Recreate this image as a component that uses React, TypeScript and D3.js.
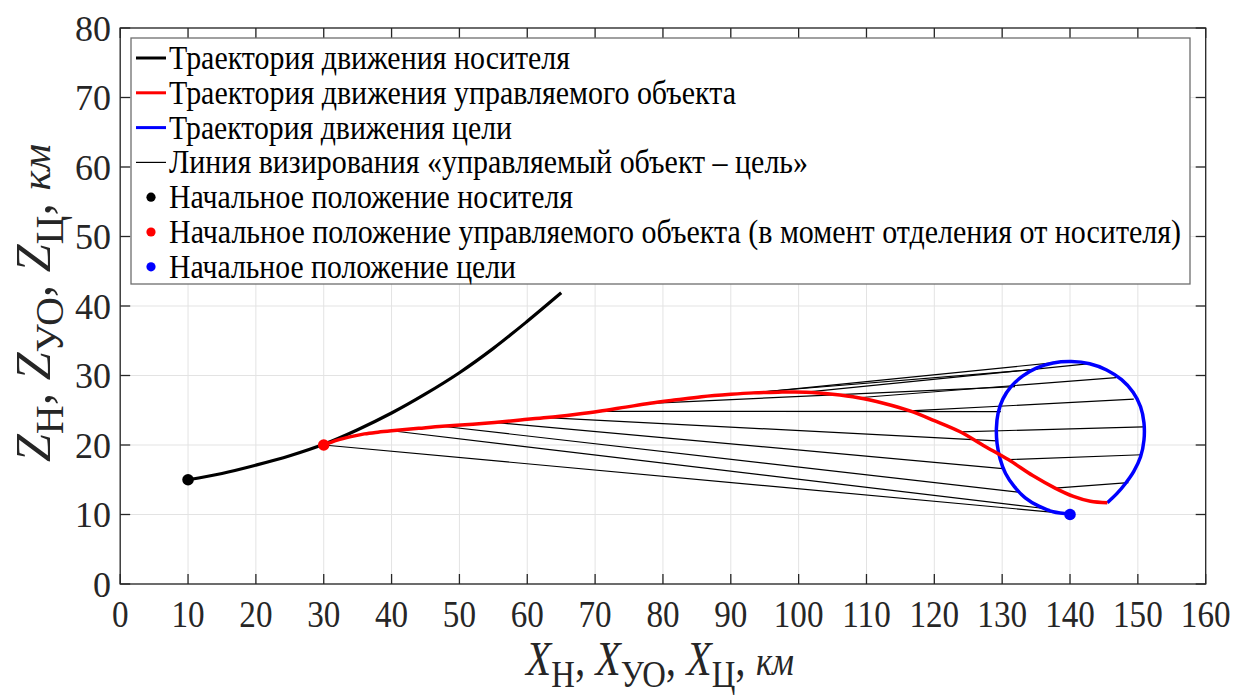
import React from "react";
import * as d3 from "d3";

const W = 1237;
const H = 697;

// ---- data (km) ----
const xTicks = [0, 10, 20, 30, 40, 50, 60, 70, 80, 90, 100, 110, 120, 130, 140, 150, 160];
const yTicks = [0, 10, 20, 30, 40, 50, 60, 70, 80];

const carrierX = [10, 15, 20, 25, 30, 35, 40, 45, 50, 55, 60, 65];
const carrierZ = [15, 15.9, 17.1, 18.45, 20.1, 22.2, 24.6, 27.35, 30.4, 33.9, 37.8, 41.9];

const objectX = [30, 32, 34, 36, 38, 40, 44, 47.5, 52, 55.2, 59, 62.9, 67, 70.6, 74.5, 78.1, 82, 85.7, 90, 93.4, 97, 101.1, 105, 108.8, 112.5, 116.4, 120, 123.8, 127.3, 130.9, 134.5, 137.8, 140.5, 143, 145.5];
const objectZ = [20, 20.7, 21.2, 21.6, 21.85, 22.05, 22.4, 22.7, 23.0, 23.25, 23.6, 23.95, 24.4, 24.85, 25.45, 26.0, 26.5, 26.95, 27.3, 27.5, 27.6, 27.6, 27.3, 26.8, 26.0, 24.9, 23.5, 21.9, 19.9, 17.9, 15.6, 13.8, 12.6, 11.9, 11.7];

const targetX = [140, 137.5, 135.4, 133.4, 131.8, 130.5, 129.7, 129.25, 129.15, 129.4, 130.1, 131.3, 133.0, 135.1, 137.5, 140.2, 142.9, 145.4, 147.6, 149.3, 150.4, 150.9, 150.9, 150.4, 149.4, 148.2, 146.9, 145.5];
const targetZ = [10.1, 10.4, 11.2, 12.4, 14.0, 15.9, 18.0, 20.2, 22.4, 24.6, 26.6, 28.4, 29.9, 31.1, 31.8, 32.0, 31.7, 30.8, 29.4, 27.6, 25.5, 23.2, 20.7, 18.3, 16.2, 14.5, 13.0, 11.7];

// line of sight: object point -> target point at the same instant
const losObjX = [30, 40, 47.5, 55.2, 62.9, 70.6, 78.1, 85.7, 93.4, 101.1, 108.8, 116.4, 123.8, 130.9, 137.8];
const losObjZ = [20, 22.05, 22.7, 23.25, 23.95, 24.85, 26.0, 26.95, 27.5, 27.6, 26.8, 24.9, 21.9, 17.9, 13.8];
const losTgtX = [140, 135.9, 132.5, 130.1, 129.2, 129.8, 131.9, 135.2, 139.2, 142.9, 146.8, 149.4, 150.8, 150.6, 148.6];
const losTgtZ = [10.1, 10.9, 13.2, 16.6, 20.6, 24.8, 28.4, 30.9, 32.0, 31.7, 29.7, 26.6, 22.6, 18.6, 14.6];

const startCarrier = [10, 15];
const startObject = [30, 20];
const startTarget = [140, 10];

const legendLabels = [
  "Траектория движения носителя",
  "Траектория движения управляемого объекта",
  "Траектория движения цели",
  "Линия визирования «управляемый объект – цель»",
  "Начальное положение носителя",
  "Начальное положение управляемого объекта (в момент отделения от носителя)",
  "Начальное положение цели",
];
const legendKinds = ["line", "line", "line", "line", "dot", "dot", "dot"];
const legendColors = ["#000000", "#ff0000", "#0000ff", "#000000", "#000000", "#ff0000", "#0000ff"];
// layout: stroke widths and rendered text widths (px)
const legendStroke = [3, 3, 3, 1.2, 0, 0, 0];
const legendTextW = [401, 567, 343, 639, 404, 1012, 347];

const SERIF = "'Liberation Serif'";
const ff = { fontFamily: SERIF };

export default function App() {
  const left = 120.2, right = 1205.7, top = 28, bottom = 584;
  const x = d3.scaleLinear().domain([0, 160]).range([left, right]);
  const y = d3.scaleLinear().domain([0, 80]).range([bottom, top]);

  const line = d3
    .line<[number, number]>()
    .x((d) => x(d[0]))
    .y((d) => y(d[1]))
    .curve(d3.curveCatmullRom.alpha(0.5));

  const zip = (a: number[], b: number[]) => a.map((v, i) => [v, b[i]] as [number, number]);

  const carrierPath = line(zip(carrierX, carrierZ)) || "";
  const objectPath = line(zip(objectX, objectZ)) || "";
  const targetPath = line(zip(targetX, targetZ)) || "";

  const tickLen = 10;
  const legendX = 131, legendY = 38, legendW = 1059, legendH = 246;
  const rowH = 34.8;

  const axisLabel = (letter: string, sub: number, dy: number) => (
    <>
      <tspan style={ff} fontStyle="italic">{letter}</tspan>
      <tspan style={ff} fontSize={sub} dy={dy}>Н</tspan>
      <tspan style={ff} dy={-dy}>, </tspan>
      <tspan style={ff} fontStyle="italic">{letter}</tspan>
      <tspan style={ff} fontSize={sub} dy={dy}>УО</tspan>
      <tspan style={ff} dy={-dy}>, </tspan>
      <tspan style={ff} fontStyle="italic">{letter}</tspan>
      <tspan style={ff} fontSize={sub} dy={dy}>Ц</tspan>
      <tspan style={ff} dy={-dy}>, </tspan>
      <tspan style={ff} fontStyle="italic" fontSize={sub + 2}>км</tspan>
    </>
  );

  return (
    <svg
      width={W}
      height={H}
      style={{ position: "absolute", left: 0, top: 0, background: "#fff", fontFamily: SERIF }}
    >
      <rect x={0} y={0} width={W} height={H} fill="#fff" />
      {/* grid */}
      <g stroke="#e3e3e3" strokeWidth={1}>
        {xTicks.map((t) => (
          <line key={"gx" + t} x1={x(t)} x2={x(t)} y1={top} y2={bottom} />
        ))}
        {yTicks.map((t) => (
          <line key={"gy" + t} x1={left} x2={right} y1={y(t)} y2={y(t)} />
        ))}
      </g>

      {/* sight lines */}
      <g stroke="#000" strokeWidth={1.2}>
        {losObjX.map((v, i) => (
          <line key={"los" + i} x1={x(v)} y1={y(losObjZ[i])} x2={x(losTgtX[i])} y2={y(losTgtZ[i])} />
        ))}
      </g>

      <path d={carrierPath} fill="none" stroke="#000" strokeWidth={3.2} />
      <path d={targetPath} fill="none" stroke="#0000ff" strokeWidth={3.5} />
      <path d={objectPath} fill="none" stroke="#ff0000" strokeWidth={3.5} />

      <circle cx={x(startCarrier[0])} cy={y(startCarrier[1])} r={5.8} fill="#000" />
      <circle cx={x(startObject[0])} cy={y(startObject[1])} r={5.8} fill="#ff0000" />
      <circle cx={x(startTarget[0])} cy={y(startTarget[1])} r={5.8} fill="#0000ff" />

      {/* axes box and ticks */}
      <rect x={left} y={top} width={right - left} height={bottom - top} fill="none" stroke="#262626" strokeWidth={1.3} />
      <g stroke="#262626" strokeWidth={1.3}>
        {xTicks.map((t) => (
          <g key={"tx" + t}>
            <line x1={x(t)} x2={x(t)} y1={bottom} y2={bottom - tickLen} />
            <line x1={x(t)} x2={x(t)} y1={top} y2={top + tickLen} />
          </g>
        ))}
        {yTicks.map((t) => (
          <g key={"ty" + t}>
            <line x1={left} x2={left + tickLen} y1={y(t)} y2={y(t)} />
            <line x1={right} x2={right - tickLen} y1={y(t)} y2={y(t)} />
          </g>
        ))}
      </g>

      {/* tick labels */}
      <g fill="#262626">
        {xTicks.map((t) => (
          <text key={"lx" + t} style={ff} transform={`translate(${x(t)},627) scale(0.85,1)`} textAnchor="middle" fontSize={39}>
            {t}
          </text>
        ))}
        {yTicks.map((t) => (
          <text key={"ly" + t} style={ff} x={111} y={y(t) + 12.5} textAnchor="end" fontSize={36}>
            {t}
          </text>
        ))}
      </g>

      {/* axis labels */}
      <text style={ff} transform="translate(660,675) scale(0.86,1)" textAnchor="middle" fill="#262626" fontSize={48}>
        {axisLabel("X", 38, 12)}
      </text>
      <text style={ff} transform="translate(50,303) rotate(-90)" textAnchor="middle" fill="#262626" fontSize={50}>
        {axisLabel("Z", 40, 13)}
      </text>

      {/* legend */}
      <rect x={legendX} y={legendY} width={legendW} height={legendH} fill="#fff" stroke="#6e6e6e" strokeWidth={1.3} />
      {legendLabels.map((label, i) => {
        const cy = legendY + 20 + i * rowH;
        return (
          <g key={"lg" + i}>
            {legendKinds[i] === "line" ? (
              <line x1={136} x2={166} y1={cy} y2={cy} stroke={legendColors[i]} strokeWidth={legendStroke[i]} />
            ) : (
              <circle cx={151} cy={cy} r={4.6} fill={legendColors[i]} />
            )}
            <text
              style={ff}
              x={169}
              y={cy + 11}
              fontSize={34}
              fill="#000"
              textLength={legendTextW[i]}
              lengthAdjust="spacingAndGlyphs"
            >
              {label}
            </text>
          </g>
        );
      })}
    </svg>
  );
}
